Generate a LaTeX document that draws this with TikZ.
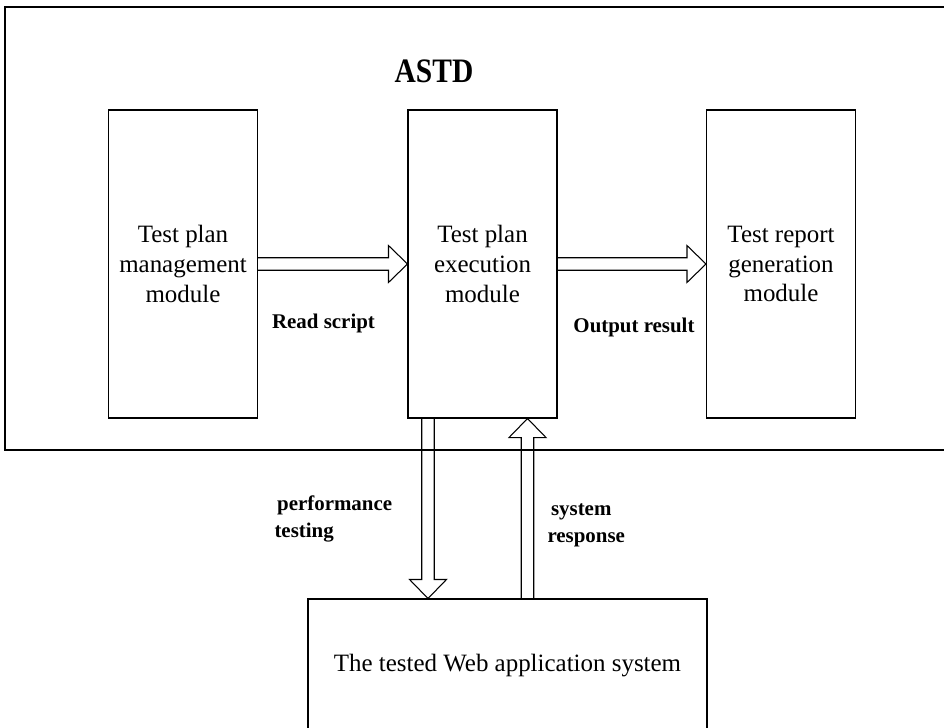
\documentclass[tikz,border=0pt]{standalone}
\usepackage{fontspec}
\setmainfont{Liberation Serif}
\usepackage{tikz}
\usetikzlibrary{positioning,calc}

% hollow block arrow from #1 to #2
\newcommand{\blockarrow}[2]{%
  \coordinate (hb) at ($(#2)!0.38cm!(#1)$);
  \draw ($(#1)!0.125cm!90:(#2)$) -- ($(hb)!0.125cm!90:(#2)$)
     -- ($(hb)!0.37cm!90:(#2)$) -- (#2)
     -- ($(hb)!0.37cm!-90:(#2)$) -- ($(hb)!0.125cm!-90:(#2)$)
     -- ($(#1)!0.125cm!-90:(#2)$);
}

\begin{document}
\begin{tikzpicture}[line width=0.6pt]
  % Styles
  \tikzset{
    module/.style={draw,minimum width=2.98cm,minimum height=6.16cm,align=center,
      inner sep=0pt,font=\fontsize{14.2}{17}\selectfont},
    lab/.style={inner sep=0pt,align=left,font=\fontsize{11.9}{15.3}\selectfont\bfseries},
    bigtitle/.style={xscale=0.86,font=\fontsize{19.5}{22}\selectfont\bfseries}
  }
  \useasboundingbox (0,0) rectangle (18.88,14.54);

  %================= ASTD FRAME =================
  \draw (0.1,5.54) rectangle (19.6,14.40);
  \node[bigtitle] (astd) at (8.68,13.12) {ASTD};

  %================= MODULES =================
  \node[module] (plan)   at ( 3.66,9.26) {Test plan\\management\\module};
  \node[module] (exec)   at ( 9.65,9.26) {Test plan\\execution\\module};
  \node[module] (report) at (15.62,9.26) {Test report\\generation\\module};

  % tested system (runs off the bottom)
  \node[draw,anchor=base,inner sep=0pt,minimum width=7.98cm,
        text height=1.44cm,text depth=1.6cm,font=\fontsize{14.2}{17}\selectfont]
        (web) at (10.15,1.12) {The tested Web application system};

  %================= ARROWS =================
  \blockarrow{plan.east}{exec.west}
  \blockarrow{exec.east}{report.west}

  \coordinate (dn1) at ($(exec.south)+(-1.09,0)$);
  \coordinate (dn2) at (dn1 |- web.north);
  \coordinate (up1) at ($(exec.south)+(0.9,0)$);
  \coordinate (up2) at (up1 |- web.north);
  \blockarrow{dn1}{dn2}
  \blockarrow{up2}{up1}

  % Labels
  \node[lab,anchor=base] (readlab) at (6.47,7.98) {Read script};
  \node[lab,anchor=base] (outlab)  at (12.68,7.88) {Output result};
  \node[lab,anchor=west] (perflab) at (5.48,4.16) {\hspace{1.5pt}performance\\testing};
  \node[lab,anchor=west] (resplab) at (10.94,4.03) {\hspace{2pt}system\\response};
\end{tikzpicture}
\end{document}
